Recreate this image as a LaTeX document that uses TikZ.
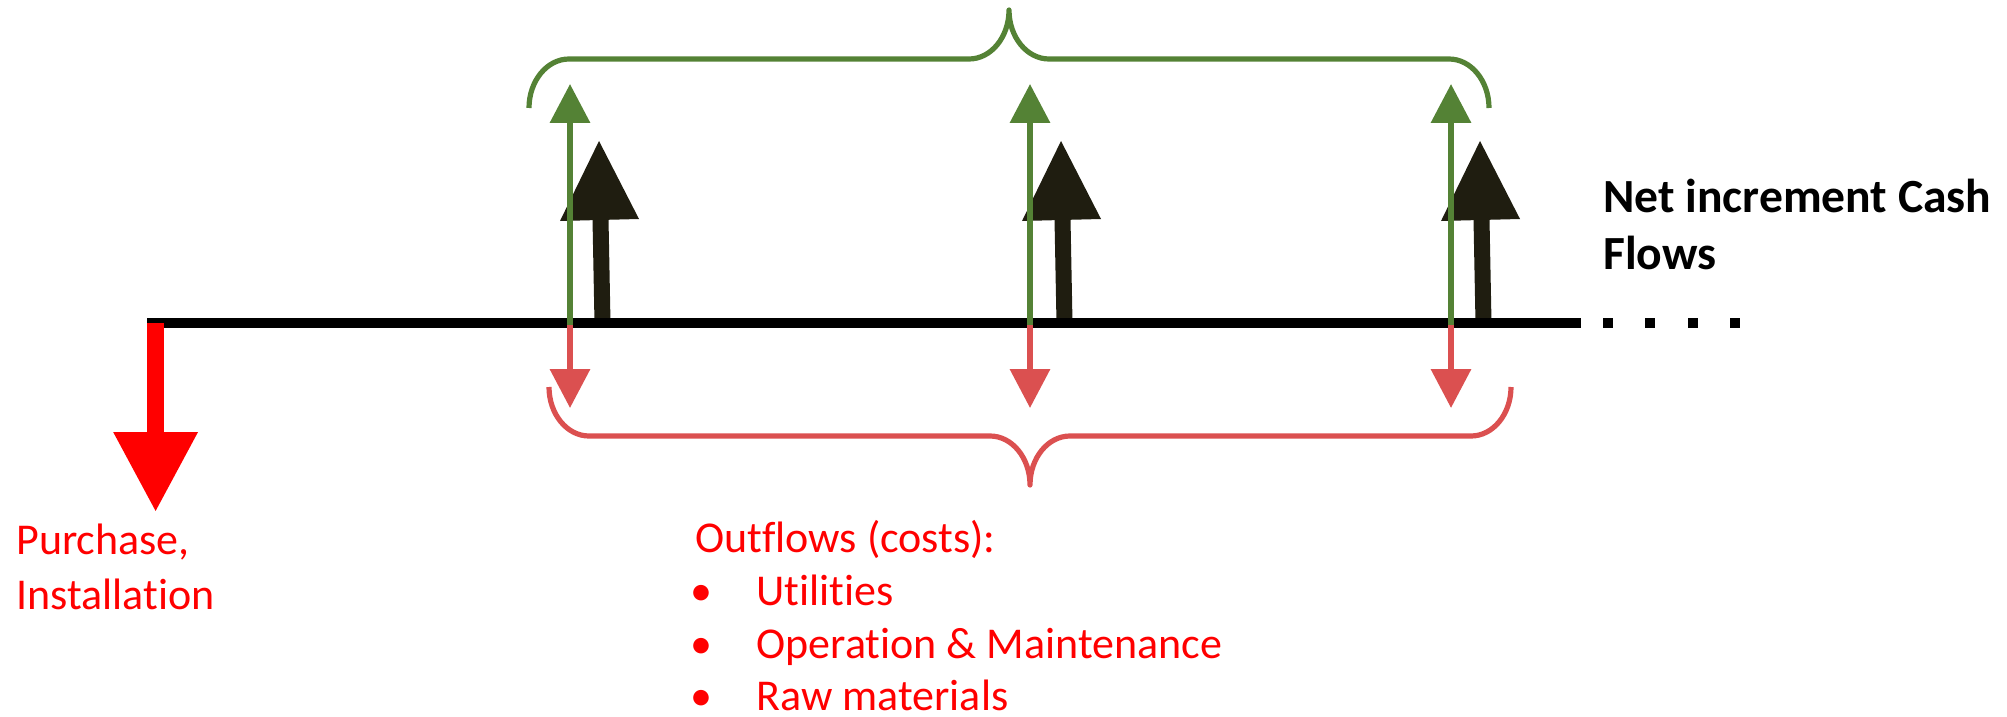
\documentclass[tikz,border=0pt]{standalone}
\usepackage{fontspec}
\setmainfont{Carlito}[Ligatures=CommonOff]
\usetikzlibrary{arrows.meta}

\definecolor{gainGreen}{RGB}{84,130,53}
\definecolor{costRed}{RGB}{219,80,80}
\definecolor{capexRed}{RGB}{255,0,0}
\definecolor{netDark}{RGB}{31,29,16}

\begin{document}
\begin{tikzpicture}[x=0.5pt,y=0.5pt,
  axis/.style={draw=black, line width=5pt},
  inflow/.style={draw=gainGreen, line width=3pt, -{Triangle[length=19.5pt,width=19.6pt]}},
  outflow/.style={draw=costRed, line width=3pt, -{Triangle[length=19.5pt,width=19.6pt]}},
  capex/.style={draw=capexRed, line width=8.25pt, -{Triangle[length=40pt,width=40pt]}},
  netshaft/.style={draw=netDark, line width=8pt},
  nethead/.style={fill=netDark},
  brace/.style={line width=2.6pt, line join=round},
  tickdot/.style={fill=black},
  redtxt/.style={inner sep=0pt, anchor=base west, text=capexRed, font=\fontsize{22pt}{27.5pt}\selectfont},
  bullettxt/.style={inner sep=0pt, anchor=base, text=capexRed, font=\fontsize{22pt}{27.5pt}\selectfont},
  nettxt/.style={inner sep=0pt, anchor=base west, text=black, font=\fontsize{23.8pt}{28.5pt}\selectfont\bfseries},
]
\useasboundingbox (0,0) rectangle (2007,-717);

% period positions on the time axis
\coordinate (p0) at (155.6,-323);
\coordinate (p1) at (570,-323);
\coordinate (p2) at (1030,-323);
\coordinate (p3) at (1451,-323);

% net increment cash flows (dark arrows, behind everything else)
\foreach \t in {599,1061,1480}{
  \draw[netshaft] (\t+3.5,-323) -- (\t+1.5,-219);
  \fill[nethead] (\t-39,-221) -- (\t+40,-219) -- (\t,-141) -- cycle;
}

% time axis and continuation dots
\draw[axis] (147,-323) -- (1581,-323);
\foreach \x in {1607.5,1650,1692.5,1735}{
  \fill[tickdot] (\x-5,-318) rectangle (\x+5,-328);
}

% initial investment
\draw[capex] (p0) -- ++(0,-189);

% inflows and outflows in each period
\foreach \p in {p1,p2,p3}{
  \draw[inflow] ([yshift=-1pt]\p) -- ++(0,241);
  \draw[outflow] ([yshift=-1pt]\p) -- ++(0,-83);
}

% brace over the inflows
\draw[gainGreen, brace] (529,-108)
  arc[start angle=180, end angle=90, x radius=20pt, y radius=24.5pt]
  -- (969,-59)
  arc[start angle=270, end angle=360, x radius=20pt, y radius=24.5pt]
  arc[start angle=180, end angle=270, x radius=20pt, y radius=24.5pt]
  -- (1449,-59)
  arc[start angle=90, end angle=0, x radius=20pt, y radius=24.5pt];

% brace under the outflows
\draw[costRed, brace] (549,-387)
  arc[start angle=180, end angle=270, x radius=20pt, y radius=24.5pt]
  -- (990,-436)
  arc[start angle=90, end angle=0, x radius=20pt, y radius=24.5pt]
  arc[start angle=180, end angle=90, x radius=20pt, y radius=24.5pt]
  -- (1471,-436)
  arc[start angle=270, end angle=360, x radius=20pt, y radius=24.5pt];

% labels
\node[redtxt] (purchase) at (16,-554) {Purchase,};
\node[redtxt] (install) at (16,-609) {Installation};

\node[redtxt] (outhead) at (695,-552) {Outflows (costs):};
\node[bullettxt] (b1) at (701,-605) {•};
\node[bullettxt] (b2) at (701,-658) {•};
\node[bullettxt] (b3) at (701,-710) {•};
\node[redtxt] (util) at (756,-605) {Utilities};
\node[redtxt] (om) at (756,-658) {Operation \& Maintenance};
\node[redtxt] (raw) at (756,-710) {Raw materials};

\node[nettxt] (net1) at (1603,-212) {Net increment Cash};
\node[nettxt] (net2) at (1603,-269) {Flows};
\end{tikzpicture}
\end{document}
